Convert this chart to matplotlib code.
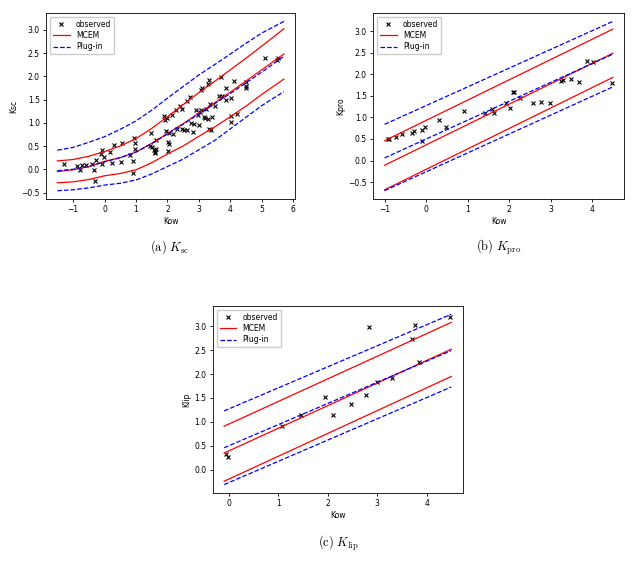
import numpy as np
import matplotlib
matplotlib.use("Agg")
import matplotlib.pyplot as plt

plt.rcParams['mathtext.fontset'] = 'cm'

# ---- (a) Ksc ----
sc_kow = [-1.30, -0.89, -0.77, -0.73, -0.58, -0.40, -0.32, -0.31, -0.27, -0.11,
          -0.08, -0.02, -0.09, 0.16, 0.25, 0.31, 0.54, 0.51, 0.80, 0.89,
          0.89, 0.93, 0.96, 0.98, 1.48, 1.46, 1.51, 1.57, 1.60, 1.62,
          1.65, 1.60, 1.88, 1.93, 1.96, 1.98, 2.02, 2.04, 2.02, 2.04,
          2.14, 2.18, 2.26, 2.31, 2.41, 2.46, 2.47, 2.54, 2.61, 2.62,
          2.71, 2.75, 2.81, 2.84, 2.92, 2.97, 3.00, 3.02, 3.05, 3.08,
          3.10, 3.16, 3.18, 3.24, 3.28, 3.28, 3.32, 3.35, 3.33, 3.37,
          3.40, 3.51, 3.63, 3.69, 3.72, 3.87, 3.87, 4.01, 4.01, 4.03,
          4.11, 4.22, 4.48, 4.50, 4.50, 5.09, 5.47, 5.52]
sc_obs = [0.12, 0.07, -0.02, 0.09, 0.09, 0.11, -0.01, -0.25, 0.19, 0.32,
          0.42, 0.27, 0.12, 0.37, 0.14, 0.52, 0.57, 0.16, 0.30, 0.17,
          -0.07, 0.67, 0.57, 0.44, 0.77, 0.50, 0.48, 0.41, 0.37, 0.44,
          0.62, 0.34, 1.14, 1.07, 0.82, 1.10, 0.59, 0.55, 0.39, 0.78,
          1.16, 0.75, 1.28, 0.87, 1.35, 1.30, 0.86, 0.85, 1.46, 0.85,
          1.55, 1.00, 0.80, 0.98, 1.27, 1.16, 0.96, 1.23, 1.71, 1.27,
          1.75, 1.12, 1.11, 1.30, 1.09, 1.84, 1.91, 1.40, 0.87, 0.85,
          1.12, 1.35, 1.58, 1.98, 1.57, 1.75, 1.50, 1.54, 1.14, 1.02,
          1.90, 1.18, 1.88, 1.80, 1.75, 2.40, 2.36, 2.39]

sc_grid = [-1.5, -1.0, -0.5, 0.0, 0.5, 1.0, 1.5, 2.0, 2.5, 3.0, 3.5, 4.0, 4.5, 5.0, 5.7]
sc_mcem_mid = [-0.05, -0.01, 0.06, 0.17, 0.25, 0.37, 0.56, 0.77, 0.98, 1.21, 1.43, 1.66, 1.90, 2.14, 2.48]
sc_mcem_hi = [0.18, 0.21, 0.28, 0.38, 0.50, 0.66, 0.88, 1.13, 1.39, 1.65, 1.89, 2.14, 2.39, 2.65, 3.02]
sc_mcem_lo = [-0.29, -0.27, -0.22, -0.14, -0.09, -0.01, 0.14, 0.33, 0.50, 0.71, 0.91, 1.13, 1.36, 1.61, 1.94]
sc_plug_mid = [-0.03, 0.00, 0.06, 0.16, 0.25, 0.37, 0.55, 0.76, 0.97, 1.19, 1.41, 1.63, 1.86, 2.09, 2.43]
sc_plug_hi = [0.41, 0.47, 0.58, 0.70, 0.86, 1.04, 1.27, 1.53, 1.78, 2.03, 2.25, 2.48, 2.71, 2.93, 3.18]
sc_plug_lo = [-0.46, -0.44, -0.40, -0.34, -0.30, -0.23, -0.10, 0.06, 0.22, 0.42, 0.62, 0.87, 1.12, 1.37, 1.67]

# ---- (b) Kpro ----
pro_kow = [-0.92, -0.90, -0.73, -0.59, -0.35, -0.29, -0.10, -0.09, -0.02, 0.32,
           0.49, 0.92, 1.41, 1.59, 1.63, 1.93, 2.01, 2.09, 2.11, 2.27,
           2.58, 2.78, 2.98, 3.24, 3.31, 3.48, 3.69, 3.87, 4.02, 4.48]
pro_obs = [0.51, 0.50, 0.55, 0.62, 0.64, 0.68, 0.70, 0.45, 0.78, 0.94,
           0.78, 1.15, 1.10, 1.19, 1.11, 1.34, 1.23, 1.59, 1.58, 1.44,
           1.34, 1.37, 1.34, 1.85, 1.87, 1.90, 1.83, 2.32, 2.29, 1.79]

pro_grid = [-1.0, 4.5]
pro_mcem_mid = [-0.11, 2.49]
pro_mcem_hi = [0.46, 3.05]
pro_mcem_lo = [-0.68, 1.93]
pro_plug_mid = [0.06, 2.47]
pro_plug_hi = [0.84, 3.23]
pro_plug_lo = [-0.70, 1.71]

# ---- (c) Klip ----
lip_kow = [-0.07, -0.02, 1.08, 1.45, 1.94, 2.11, 2.47, 2.78, 2.84, 3.00,
           3.30, 3.70, 3.76, 3.85, 4.47]
lip_obs = [0.33, 0.27, 0.91, 1.15, 1.52, 1.15, 1.38, 1.57, 2.99, 1.84,
           1.92, 2.73, 3.03, 2.26, 3.20]

lip_grid = [-0.1, 4.5]
lip_mcem_mid = [0.35, 2.52]
lip_mcem_hi = [0.91, 3.08]
lip_mcem_lo = [-0.24, 1.95]
lip_plug_mid = [0.46, 2.49]
lip_plug_hi = [1.23, 3.25]
lip_plug_lo = [-0.31, 1.73]


def panel(ax, kow, obs, grid, mid, hi, lo, pmid, phi, plo, ylab):
    ax.plot(kow, obs, 'x', color='black', ms=3.5, mew=0.8, label='observed')
    ax.plot(grid, mid, '-', color='red', lw=0.9, label='MCEM')
    ax.plot(grid, hi, '-', color='red', lw=0.9)
    ax.plot(grid, lo, '-', color='red', lw=0.9)
    ax.plot(grid, pmid, '--', color='blue', lw=0.9, label='Plug-in')
    ax.plot(grid, phi, '--', color='blue', lw=0.9)
    ax.plot(grid, plo, '--', color='blue', lw=0.9)
    ax.set_xlabel('Kow', fontsize=5.5, labelpad=2)
    ax.set_ylabel(ylab, fontsize=5.5, labelpad=2)
    ax.tick_params(labelsize=5.5, length=2.5, width=0.6, pad=2)
    for s in ax.spines.values():
        s.set_linewidth(0.6)
    ax.legend(loc='upper left', fontsize=5.5, handlelength=2.2, borderpad=0.4,
              labelspacing=0.3, framealpha=1.0)


fig = plt.figure(figsize=(6.39, 5.61), dpi=100)

ax1 = fig.add_axes([0.072, 0.645, 0.390, 0.332])
panel(ax1, sc_kow, sc_obs, sc_grid, sc_mcem_mid, sc_mcem_hi, sc_mcem_lo,
      sc_plug_mid, sc_plug_hi, sc_plug_lo, 'Ksc')
ax1.set_xticks([-1, 0, 1, 2, 3, 4, 5, 6])

ax2 = fig.add_axes([0.584, 0.645, 0.393, 0.332])
panel(ax2, pro_kow, pro_obs, pro_grid, pro_mcem_mid, pro_mcem_hi, pro_mcem_lo,
      pro_plug_mid, pro_plug_hi, pro_plug_lo, 'Kpro')

ax3 = fig.add_axes([0.333, 0.121, 0.391, 0.334])
panel(ax3, lip_kow, lip_obs, lip_grid, lip_mcem_mid, lip_mcem_hi, lip_mcem_lo,
      lip_plug_mid, lip_plug_hi, lip_plug_lo, 'Klip')

fig.text(0.265, 1 - 247 / 561, r'$\mathrm{(a)}\ K_{\mathrm{sc}}$', ha='center', va='center', fontsize=9)
fig.text(0.780, 1 - 247 / 561, r'$\mathrm{(b)}\ K_{\mathrm{pro}}$', ha='center', va='center', fontsize=9)
fig.text(0.529, 1 - 543 / 561, r'$\mathrm{(c)}\ K_{\mathrm{lip}}$', ha='center', va='center', fontsize=9)

fig.savefig('out.png', dpi=100)
